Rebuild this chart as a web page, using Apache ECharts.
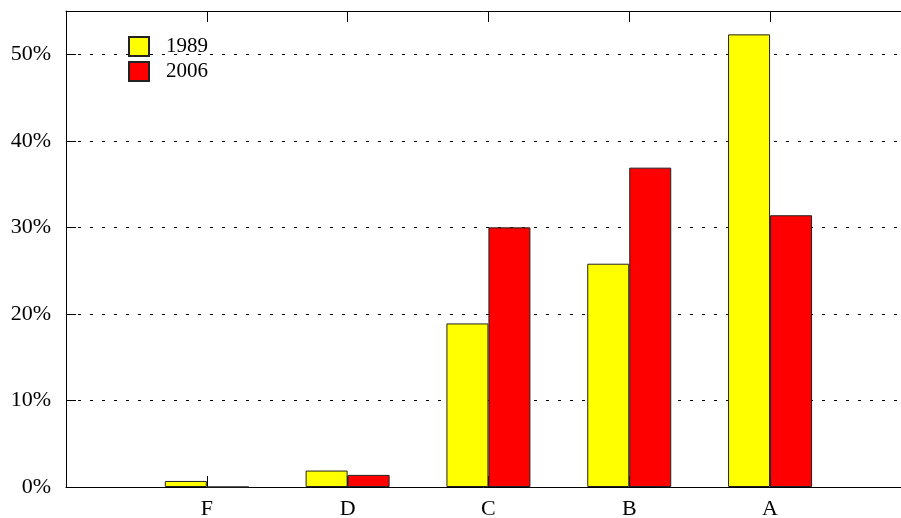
<!DOCTYPE html>
<html>
<head>
<meta charset="utf-8">
<script src="https://cdn.jsdelivr.net/npm/echarts@6/dist/echarts.min.js"></script>
<style>
  html, body { margin: 0; padding: 0; background: #fff; }
  #main { width: 901px; height: 518px; }
</style>
</head>
<body>
<div id="main"></div>
<script>
// grades, left to right
let categories = ['F', 'D', 'C', 'B', 'A'];
let values1989 = [0.7, 1.9, 18.9, 25.8, 52.3];
let values2006 = [0, 1.4, 30.0, 36.9, 31.4];
let yTicks = [0, 10, 20, 30, 40, 50];

function toPoints(vals) {
    return vals.map(function(v, i) { return [i + 1, v]; });
}

let font = 'Liberation Serif';

var myChart = echarts.init(document.getElementById('main'));

var xCommon = {
    type: 'value',
    min: 0,
    max: 5.93,
    interval: 1,
    axisLine: { lineStyle: { color: '#000', width: 1 } },
    axisTick: { inside: true, length: 11, lineStyle: { color: '#000' } },
    splitLine: { show: false }
};

var option = {
    animation: false,
    backgroundColor: '#fff',
    grid: { left: 66, right: 0, top: 11, bottom: 31, outerBoundsMode: 'none', containLabel: false },
    legend: {
        orient: 'vertical',
        left: 128,
        top: 36,
        padding: 0,
        icon: 'rect',
        itemWidth: 20,
        itemHeight: 19,
        itemGap: 4,
        data: ['1989', '2006'],
        textStyle: { fontFamily: font, fontSize: 21, color: '#000', lineHeight: 21, padding: [0, 0, 0, 12] }
    },
    xAxis: [
        Object.assign({}, xCommon, {
            position: 'bottom',
            axisLabel: {
                fontFamily: font, fontSize: 22, color: '#000', margin: 11,
                showMaxLabel: false,
                formatter: function(v) {
                    if (Math.abs(v - Math.round(v)) > 1e-6) return '';
                    return categories[Math.round(v) - 1] || '';
                }
            }
        }),
        Object.assign({}, xCommon, {
            position: 'top',
            axisLabel: { show: false }
        })
    ],
    yAxis: {
        type: 'value',
        min: 0,
        max: 55,
        interval: 10,
        axisLine: { show: true, lineStyle: { color: '#000', width: 1 } },
        axisTick: { show: true, inside: true, length: 10, lineStyle: { color: '#000' } },
        axisLabel: {
            fontFamily: font, fontSize: 22, color: '#000', margin: 15,
            padding: [6, 0, 0, 0],
            showMaxLabel: false,
            formatter: function(v) { return yTicks.indexOf(v) >= 0 ? v + '%' : ''; }
        },
        splitLine: { show: true, lineStyle: { color: '#000', width: 1, type: [3, 9] } }
    },
    series: [
        {
            name: '1989',
            type: 'bar',
            barWidth: 42,
            barGap: '0%',
            data: toPoints(values1989),
            itemStyle: { color: '#ffff00', borderColor: '#222', borderWidth: 1 }
        },
        {
            name: '2006',
            type: 'bar',
            barWidth: 42,
            barGap: '0%',
            data: toPoints(values2006),
            itemStyle: { color: '#ff0000', borderColor: '#222', borderWidth: 1 }
        }
    ]
};

myChart.setOption(option);
</script>
</body>
</html>
